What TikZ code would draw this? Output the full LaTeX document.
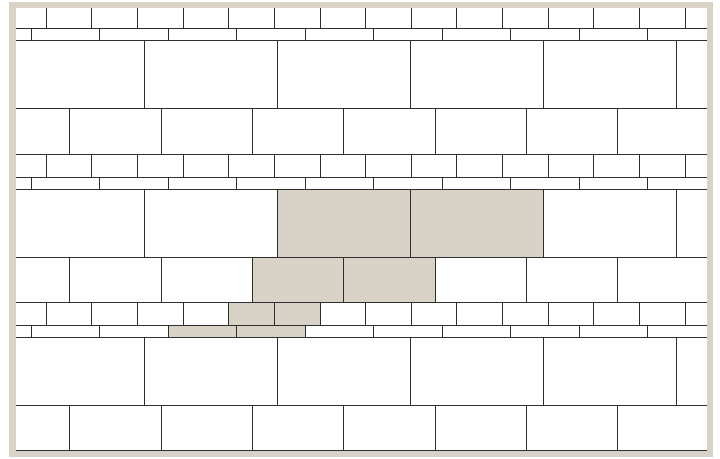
\documentclass[tikz,border=0pt]{standalone}
\usepackage{xcolor}
\usetikzlibrary{calc}
\definecolor{cstone}{HTML}{D9D3C7}
\definecolor{cmortar}{HTML}{2E2E2E}

\begin{document}
\begin{tikzpicture}[x=1pt, y=-1pt, mortar/.style={cmortar, line width=0.8pt}]
    \useasboundingbox (0,0) rectangle (720,458);
    \fill[cstone] (9,2) rectangle (713,457);
    \fill[white] (16,8) rectangle (707,451);
    \begin{scope}
        \clip (16,8) rectangle (707,451);
        \fill[cstone] (277,189) rectangle (543,257);
        \fill[cstone] (252.3,257) rectangle (434.9,302.4);
        \fill[cstone] (228.25,302.4) rectangle (319.55,325.4);
        \fill[cstone] (168,325.4) rectangle (305,337.4);
        \foreach \p in {0,1,2} {
            \pgfmathsetmacro{\ys}{5.6+148.4*\p}
            \foreach \h in {23,35,103,148.4} \draw[mortar] (16,\ys+\h) -- (707,\ys+\h);
            \foreach \k in {0,...,14} \draw[mortar] ({46+45.65*\k},\ys) -- ++(0,23);
            \foreach \k in {0,...,9} \draw[mortar] ({31+68.5*\k},\ys+23) -- ++(0,12);
            \foreach \k in {0,...,4} \draw[mortar] ({144+133*\k},\ys+35) -- ++(0,68);
            \foreach \k in {0,...,6} \draw[mortar] ({69.7+91.3*\k},\ys+103) -- ++(0,45.4);
        }
    \end{scope}
\end{tikzpicture}
\end{document}
